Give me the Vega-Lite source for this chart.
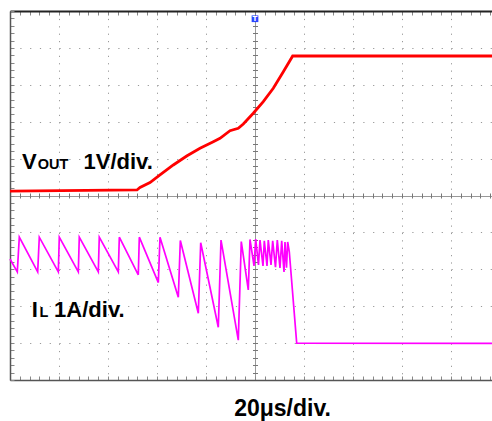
{
  "$schema": "https://vega.github.io/schema/vega-lite/v6.json",
  "width": 482,
  "height": 369,
  "autosize": {"type": "none"},
  "padding": {"left": 10, "top": 11, "right": 0, "bottom": 41},
  "background": "white",
  "view": {"stroke": null},
  "datasets": {
    "vout": [
      {"x": 0, "y": 5.12}, {"x": 2.592, "y": 5.15}, {"x": 2.653, "y": 5.22}, {"x": 2.857, "y": 5.35},
      {"x": 3.061, "y": 5.556}, {"x": 3.333, "y": 5.827}, {"x": 3.606, "y": 6.071}, {"x": 3.878, "y": 6.279},
      {"x": 4.149, "y": 6.458}, {"x": 4.286, "y": 6.55}, {"x": 4.49, "y": 6.756}, {"x": 4.659, "y": 6.821},
      {"x": 4.761, "y": 6.938}, {"x": 4.965, "y": 7.228}, {"x": 5.169, "y": 7.542}, {"x": 5.373, "y": 7.905},
      {"x": 5.578, "y": 8.355}, {"x": 5.769, "y": 8.78}, {"x": 9.84, "y": 8.78}
    ],
    "il": [
      {"x": 0, "y": 3.28}, {"x": 0.149, "y": 2.93}, {"x": 0.19, "y": 3.87}, {"x": 0.565, "y": 2.93},
      {"x": 0.598, "y": 3.87}, {"x": 0.986, "y": 2.93}, {"x": 1.006, "y": 3.87}, {"x": 1.394, "y": 2.93},
      {"x": 1.414, "y": 3.87}, {"x": 1.802, "y": 2.93}, {"x": 1.822, "y": 3.87}, {"x": 2.21, "y": 2.93},
      {"x": 2.231, "y": 3.87}, {"x": 2.618, "y": 2.85}, {"x": 2.639, "y": 3.87}, {"x": 3.027, "y": 2.64},
      {"x": 3.061, "y": 3.87}, {"x": 3.435, "y": 2.24}, {"x": 3.476, "y": 3.78}, {"x": 3.843, "y": 1.81},
      {"x": 3.892, "y": 3.72}, {"x": 4.251, "y": 1.43}, {"x": 4.306, "y": 3.79}, {"x": 4.659, "y": 1.08},
      {"x": 4.72, "y": 3.75}, {"x": 4.863, "y": 2.44}, {"x": 4.898, "y": 3.81}, {"x": 4.98, "y": 3.09},
      {"x": 5.014, "y": 3.82}, {"x": 5.071, "y": 3.12}, {"x": 5.102, "y": 3.79}, {"x": 5.163, "y": 3.09},
      {"x": 5.19, "y": 3.77}, {"x": 5.245, "y": 3.09}, {"x": 5.271, "y": 3.79}, {"x": 5.327, "y": 3.12},
      {"x": 5.361, "y": 3.77}, {"x": 5.418, "y": 3.06}, {"x": 5.455, "y": 3.79}, {"x": 5.51, "y": 3.04},
      {"x": 5.545, "y": 3.77}, {"x": 5.592, "y": 2.93}, {"x": 5.612, "y": 3.74}, {"x": 5.643, "y": 3.04},
      {"x": 5.667, "y": 3.74}, {"x": 5.7, "y": 3.47}, {"x": 5.851, "y": 1.0}, {"x": 9.84, "y": 0.99}
    ],
    "big": [
      {"label": "V", "x": 0.245, "y": 5.72},
      {"label": "1V/div.", "x": 1.5, "y": 5.72},
      {"label": "I", "x": 0.443, "y": 1.72},
      {"label": "1A/div.", "x": 0.9, "y": 1.72}
    ],
    "sub": [
      {"label": "OUT", "x": 0.565, "y": 5.72},
      {"label": "L", "x": 0.6, "y": 1.72}
    ],
    "trig": [{"x": 5, "y": 9.79}]
  },
  "resolve": {"scale": {"x": "independent", "y": "independent"}},
  "layer": [
    {
      "data": {"name": "vout"},
      "mark": {"type": "line", "color": "#ff0000", "strokeWidth": 2.8},
      "encoding": {
        "x": {"field": "x", "type": "quantitative", "scale": {"domain": [0, 9.8367], "nice": false, "zero": false},
          "axis": {"orient": "bottom", "labels": false,
            "values": [0,0.2,0.4,0.6,0.8,1,1.2,1.4,1.6,1.8,2,2.2,2.4,2.6,2.8,3,3.2,3.4,3.6,3.8,4,4.2,4.4,4.6,4.8,5,5.2,5.4,5.6,5.8,6,6.2,6.4,6.6,6.8,7,7.2,7.4,7.6,7.8,8,8.2,8.4,8.6,8.8,9,9.2,9.4,9.6,9.8],
            "tickSize": -4, "tickColor": "#888", "domainColor": "#555", "domainWidth": 1.5,
            "grid": true, "gridColor": "#999",
            "gridDash": {"condition": {"test": "datum.value === 5", "value": []}, "value": [1.2, 6.18]},
            "gridOpacity": {"condition": {"test": "abs(datum.value - round(datum.value)) < 0.01", "value": 1}, "value": 0},
            "title": "20μs/div.", "titleFont": "Liberation Sans", "titleFontSize": 23, "titleFontWeight": "bold",
            "titleColor": "#000", "titleX": 272, "titleY": 35, "titleAlign": "center", "titleBaseline": "alphabetic"}},
        "y": {"field": "y", "type": "quantitative", "scale": {"domain": [0, 10], "nice": false, "zero": false},
          "axis": {"orient": "left", "labels": false, "title": null,
            "values": [0,0.2,0.4,0.6,0.8,1,1.2,1.4,1.6,1.8,2,2.2,2.4,2.6,2.8,3,3.2,3.4,3.6,3.8,4,4.2,4.4,4.6,4.8,5,5.2,5.4,5.6,5.8,6,6.2,6.4,6.6,6.8,7,7.2,7.4,7.6,7.8,8,8.2,8.4,8.6,8.8,9,9.2,9.4,9.6,9.8,10],
            "tickSize": -4, "tickColor": "#888", "domainColor": "#555", "domainWidth": 1.5,
            "grid": true, "gridColor": "#999",
            "gridDash": {"condition": {"test": "datum.value === 5", "value": []}, "value": [1.2, 8.6]},
            "gridOpacity": {"condition": {"test": "abs(datum.value - round(datum.value)) < 0.01 && datum.value > 0", "value": 1}, "value": 0}}}
      }
    },
    {
      "data": {"name": "il"},
      "mark": {"type": "line", "color": "#ff00ff", "strokeWidth": 1.7},
      "encoding": {
        "x": {"field": "x", "type": "quantitative", "scale": {"domain": [0, 9.8367], "nice": false, "zero": false},
          "axis": {"orient": "top", "labels": false, "title": null,
            "values": [0,0.2,0.4,0.6,0.8,1,1.2,1.4,1.6,1.8,2,2.2,2.4,2.6,2.8,3,3.2,3.4,3.6,3.8,4,4.2,4.4,4.6,4.8,5,5.2,5.4,5.6,5.8,6,6.2,6.4,6.6,6.8,7,7.2,7.4,7.6,7.8,8,8.2,8.4,8.6,8.8,9,9.2,9.4,9.6,9.8],
            "tickSize": -4, "tickColor": "#888", "domainColor": "#222", "domainWidth": 2, "grid": false}},
        "y": {"field": "y", "type": "quantitative", "scale": {"domain": [0, 10], "nice": false, "zero": false},
          "axis": {"orient": "left", "offset": -247.5, "labels": false, "title": null, "domain": false,
            "values": [0.2,0.4,0.6,0.8,1,1.2,1.4,1.6,1.8,2,2.2,2.4,2.6,2.8,3,3.2,3.4,3.6,3.8,4,4.2,4.4,4.6,4.8,5,5.2,5.4,5.6,5.8,6,6.2,6.4,6.6,6.8,7,7.2,7.4,7.6,7.8,8,8.2,8.4,8.6,8.8,9,9.2,9.4,9.6,9.8],
            "tickSize": 5, "tickColor": "#777", "grid": false}}
      }
    },
    {
      "data": {"name": "big"},
      "mark": {"type": "text", "font": "Liberation Sans", "fontSize": 22, "fontWeight": "bold", "color": "#000", "align": "left", "baseline": "alphabetic"},
      "encoding": {
        "x": {"field": "x", "type": "quantitative", "scale": {"domain": [0, 9.8367], "nice": false, "zero": false},
          "axis": {"orient": "bottom", "offset": -187, "labels": false, "title": null, "domain": false,
            "values": [0.2,0.4,0.6,0.8,1,1.2,1.4,1.6,1.8,2,2.2,2.4,2.6,2.8,3,3.2,3.4,3.6,3.8,4,4.2,4.4,4.6,4.8,5,5.2,5.4,5.6,5.8,6,6.2,6.4,6.6,6.8,7,7.2,7.4,7.6,7.8,8,8.2,8.4,8.6,8.8,9,9.2,9.4,9.6,9.8],
            "tickSize": 5, "tickColor": "#777", "grid": false}},
        "y": {"field": "y", "type": "quantitative", "scale": {"domain": [0, 10], "nice": false, "zero": false}, "axis": null},
        "text": {"field": "label"}
      }
    },
    {
      "data": {"name": "sub"},
      "mark": {"type": "text", "font": "Liberation Sans", "fontSize": 14.5, "fontWeight": "bold", "color": "#000", "align": "left", "baseline": "alphabetic"},
      "encoding": {
        "x": {"field": "x", "type": "quantitative", "scale": {"domain": [0, 9.8367], "nice": false, "zero": false}, "axis": null},
        "y": {"field": "y", "type": "quantitative", "scale": {"domain": [0, 10], "nice": false, "zero": false}, "axis": null},
        "text": {"field": "label"}
      }
    },
    {
      "data": {"name": "trig"},
      "mark": {"type": "point", "shape": "square", "filled": true, "color": "#2a46ff", "size": 45, "opacity": 1},
      "encoding": {
        "x": {"field": "x", "type": "quantitative", "scale": {"domain": [0, 9.8367], "nice": false, "zero": false}, "axis": null},
        "y": {"field": "y", "type": "quantitative", "scale": {"domain": [0, 10], "nice": false, "zero": false}, "axis": null}
      }
    },
    {
      "data": {"name": "trig"},
      "mark": {"type": "text", "text": "T", "font": "DejaVu Sans", "fontSize": 7, "fontWeight": "bold", "color": "white", "align": "center", "baseline": "middle"},
      "encoding": {
        "x": {"field": "x", "type": "quantitative", "scale": {"domain": [0, 9.8367], "nice": false, "zero": false}, "axis": null},
        "y": {"field": "y", "type": "quantitative", "scale": {"domain": [0, 10], "nice": false, "zero": false}, "axis": null}
      }
    }
  ]
}
